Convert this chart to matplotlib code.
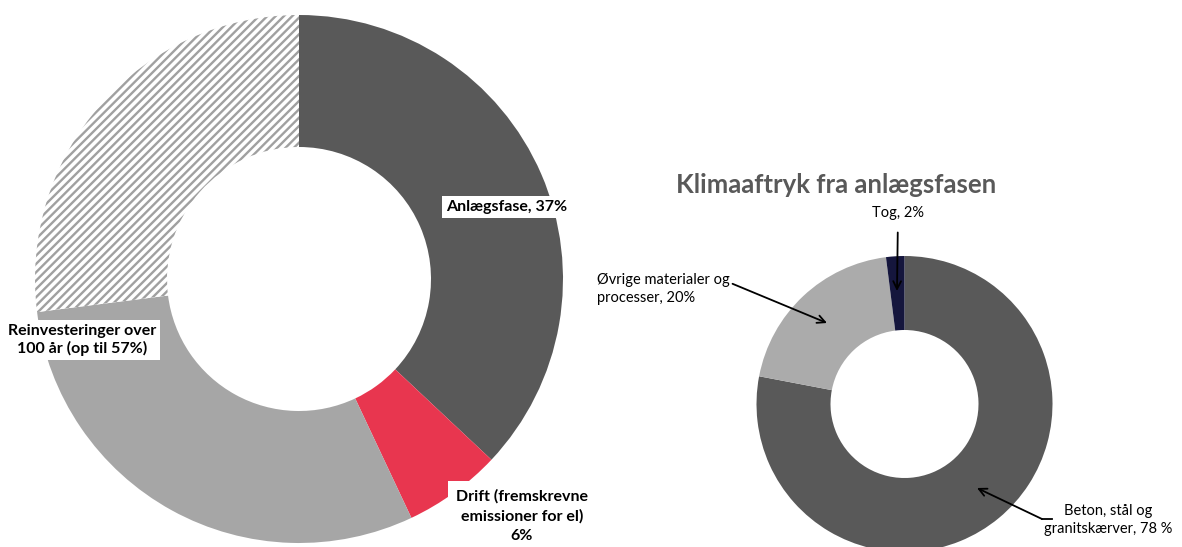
import matplotlib

matplotlib.use("Agg")
import matplotlib.pyplot as plt

# --- data -------------------------------------------------------------
total_labels = ["Anlægsfase", "Drift", "Reinvesteringer", "Reinvesteringer (op til)"]
total_values = [37, 6, 30, 27]
total_colors = ["#595959", "#E8364F", "#A6A6A6", "white"]
total_hatch = ["", "", "", "////"]

phase_labels = ["Beton, stål og granitskærver", "Øvrige materialer og processer", "Tog"]
phase_values = [78, 20, 2]
phase_colors = ["#595959", "#ABABAB", "#15163D"]

W, H = 1182, 547

plt.rcParams["font.family"] = ["Lato", "DejaVu Sans"]
plt.rcParams["hatch.linewidth"] = 1.7

fig = plt.figure(figsize=(W / 100, H / 100), dpi=100)
ax = fig.add_axes([0, 0, 1, 1])


def Y(y):
    # image pixel row -> data y
    return H - y


# left donut: totals over 100 years
r1 = 264
ax.pie(total_values, colors=total_colors, hatch=total_hatch, startangle=90,
       counterclock=False, center=(299, Y(279)), radius=r1,
       wedgeprops=dict(width=r1 * 0.5, linewidth=0, edgecolor="#A0A0A0"))

# right donut: construction phase
r2 = 148
ax.pie(phase_values, colors=phase_colors, startangle=90, counterclock=False,
       center=(904.5, Y(404)), radius=r2,
       wedgeprops=dict(width=r2 * 0.5, linewidth=0))

ax.set_xlim(0, W)
ax.set_ylim(0, H)
ax.set_aspect("equal")
ax.axis("off")

box = dict(facecolor="white", edgecolor="none", pad=3)
bold = dict(fontsize=11.5, fontweight="bold", color="black", ha="center", va="center")
ax.text(507, Y(207), f"{total_labels[0]}, {total_values[0]}%", bbox=box, **bold)
ax.text(82, Y(340), f"Reinvesteringer over\n100 år (op til {total_values[2] + total_values[3]}%)",
        bbox=box, linespacing=1.3, **bold)
ax.text(522, Y(516), f"Drift (fremskrevne\nemissioner for el)\n{total_values[1]}%",
        bbox=dict(facecolor="white", edgecolor="none", pad=6), linespacing=1.45, **bold)

ax.text(836, Y(185), "Klimaaftryk fra anlægsfasen", fontsize=18.5, fontweight="bold",
        color="#595959", ha="center", va="center")

reg = dict(fontsize=10.5, color="black")
arrow = dict(arrowstyle="->", color="black", lw=1.3, mutation_scale=14)
ax.annotate(f"Tog, {phase_values[2]}%", xy=(897, Y(291)), xytext=(898, Y(213)),
            ha="center", va="center", arrowprops=dict(shrinkA=7, shrinkB=0, **arrow), **reg)
ax.annotate("Øvrige materialer og\nprocesser, 20%", xy=(827, Y(323)), xytext=(597, Y(289)),
            ha="left", va="center", linespacing=1.35,
            arrowprops=dict(shrinkA=0, shrinkB=0, relpos=(1.0, 0.7), **arrow), **reg)
ax.plot([1042, 1052], [Y(519), Y(519)], color="black", lw=1.3)
ax.annotate("", xy=(977, Y(488)), xytext=(1042, Y(519)),
            arrowprops=dict(shrinkA=0, shrinkB=0, **arrow))
ax.text(1108, Y(520), "Beton, stål og\ngranitskærver, 78 %", ha="center", va="center",
        linespacing=1.35, **reg)

fig.savefig("out.png", dpi=100)
